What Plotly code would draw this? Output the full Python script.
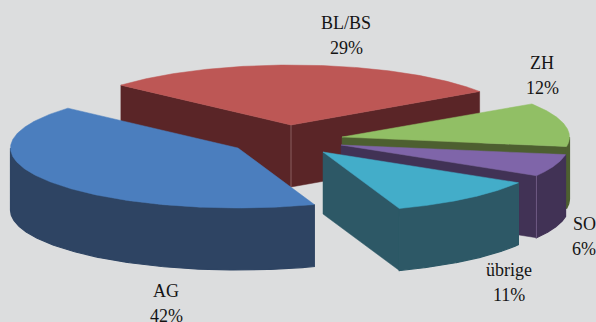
import numpy as np
import plotly.graph_objects as go

# Shares by region, clockwise from the back right
regions = ["ZH", "SO", "übrige", "AG", "BL/BS"]
shares = [12, 6, 11, 42, 29]

# Exploded apex of every slice and the place of its two-line label
apex_x = [342, 341, 323, 238, 291]
apex_y = [137, 145, 152, 148, 125]
label_x = [542, 584, 509, 166, 346]
label_y = [63, 224, 270, 291, 23]

top_colors = ["#91bf65", "#7f65a9", "#43adc9", "#4b7ebe", "#bd5755"]
wall_colors = ["#4d5f30", "#413255", "#2d5866", "#2e4463", "#5a2527"]
edge_colors = [None, "#6f5c85", None, None, "#8b5f60"]
draw_order = [4, 0, 1, 2, 3]

RX, RY, DEPTH = 227.5, 60, 62
START_ANGLE = 34
BACKGROUND = "#dcddde"


def poly(fig, xs, ys, color, width=0.5):
    fig.add_trace(go.Scatter(
        x=xs, y=ys, mode="lines", fill="toself", fillcolor=color,
        line=dict(color=color, width=width), hoverinfo="skip", showlegend=False,
    ))


def rim(cx, cy, t):
    return cx + RX * np.cos(t), cy - RY * np.sin(t)


fig = go.Figure()

# Slice boundaries in degrees, running clockwise
bounds = START_ANGLE - np.cumsum([0] + shares) * 3.6

for i in draw_order:
    cx, cy = apex_x[i], apex_y[i]
    t1, t2 = np.radians(bounds[i]), np.radians(bounds[i + 1])
    wall = wall_colors[i]

    # Cut faces turned towards the viewer
    visible = []
    if np.cos(t1) < 0:
        visible.append(t1)
    if np.cos(t2) > 0:
        visible.append(t2)
    for t in visible:
        px, py = rim(cx, cy, t)
        poly(fig, [cx, px, px, cx, cx],
             [cy, py, py + DEPTH, cy + DEPTH, cy], wall)

    # Outer wall: the part of the arc on the near half of the ellipse,
    # stroked a little wider so it closes up against the cut face
    arc = np.linspace(t1, t2, 240)
    near = arc[np.sin(arc) < 0.0]
    if near.size:
        ax, ay = rim(cx, cy, near)
        poly(fig, np.r_[ax, ax[::-1], ax[0]],
             np.r_[ay, ay[::-1] + DEPTH, ay[0]], wall, width=1.2)

    # Thin highlight down the front corner of a slice
    if edge_colors[i]:
        ex = cx if i == 4 else rim(cx, cy, t2)[0]
        ey = cy if i == 4 else rim(cx, cy, t2)[1]
        fig.add_trace(go.Scatter(
            x=[ex, ex], y=[ey, ey + DEPTH], mode="lines",
            line=dict(color=edge_colors[i], width=1),
            hoverinfo="skip", showlegend=False,
        ))

    # Top face
    tx, ty = rim(cx, cy, arc)
    poly(fig, np.r_[cx, tx, cx], np.r_[cy, ty, cy], top_colors[i])

# Name and percentage on separate lines
for name, share, x, y in zip(regions, shares, label_x, label_y):
    for text, yy in ((name, y), (f"{share}%", y + 25)):
        fig.add_annotation(
            x=x, y=yy, text=text, showarrow=False, xanchor="center", yanchor="middle",
            font=dict(family="Liberation Serif", size=18, color="#141414"),
        )

fig.update_layout(
    width=596, height=322, margin=dict(l=0, r=0, t=0, b=0),
    paper_bgcolor=BACKGROUND, plot_bgcolor=BACKGROUND, showlegend=False,
    xaxis=dict(range=[0, 596], visible=False, fixedrange=True),
    yaxis=dict(range=[322, 0], visible=False, fixedrange=True),
)
fig.write_html("out.html", config=dict(displayModeBar=False))
